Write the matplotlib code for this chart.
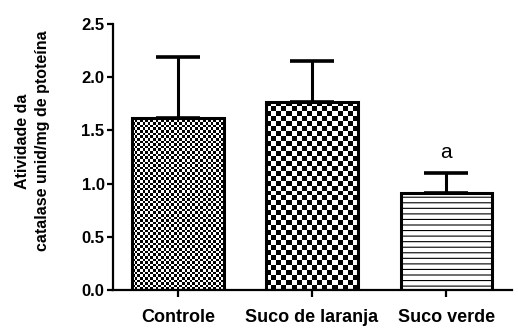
import matplotlib.pyplot as plt
import numpy as np

grupos = ['Controle', 'Suco de laranja', 'Suco verde']
medias = [1.62, 1.77, 0.91]
erros = [0.57, 0.38, 0.19]
letras = ['', '', 'a']
padroes = ['fino', 'grosso', 'listras']

plt.rcParams['font.family'] = ['Liberation Sans', 'DejaVu Sans']
plt.rcParams['hatch.linewidth'] = 0.8

fig = plt.figure(figsize=(5.18, 3.29), dpi=100)
ax = fig.add_axes([0.218, 0.1185, 0.770, 0.8085])

x = np.arange(len(grupos))
largura = 0.68
bars = ax.bar(x, medias, width=largura, color='none', edgecolor='black',
              linewidth=2.2, zorder=2)
ax.errorbar(x, medias, yerr=[np.zeros(len(x)), erros], fmt='none',
            ecolor='black', elinewidth=2.2, capsize=16, capthick=2.6, zorder=3)

ax.set_xlim(-0.485, 2.49)
ax.set_ylim(0, 2.5)

# checkerboard fills, cell size in pixels
celula = {'fino': 2.6, 'grosso': 5.0}
for b, p in zip(bars, padroes):
    if p == 'listras':
        b.set_hatch('---')
        continue
    x0, y0 = b.get_x(), 0
    x1, y1 = b.get_x() + b.get_width(), b.get_height()
    (px0, py0), (px1, py1) = ax.transData.transform([(x0, y0), (x1, y1)])
    nx = int(round((px1 - px0) / celula[p]))
    ny = int(round((py1 - py0) / celula[p]))
    tab = np.add.outer(np.arange(ny), np.arange(nx)) % 2
    im = ax.imshow(tab, cmap='gray', extent=(x0, x1, y0, y1), aspect='auto',
                   interpolation='nearest', zorder=1.5)
    im.set_clip_path(b)

ax.set_xlim(-0.485, 2.49)
ax.set_ylim(0, 2.5)

for xi, m, e, l in zip(x, medias, erros, letras):
    if l:
        ax.text(xi, m + e + 0.19, l, ha='center', va='center', fontsize=15)

ax.spines['top'].set_visible(False)
ax.spines['right'].set_visible(False)
ax.spines['left'].set_linewidth(1.6)
ax.spines['bottom'].set_linewidth(1.6)

ax.set_yticks([0, 0.5, 1.0, 1.5, 2.0, 2.5])
ax.set_yticklabels(['0.0', '0.5', '1.0', '1.5', '2.0', '2.5'])
ax.set_xticks(x)
ax.set_xticklabels(grupos)
ax.tick_params(axis='y', direction='out', length=4, width=1.6, labelsize=12, pad=2)
ax.tick_params(axis='x', direction='out', length=5, width=1.6, labelsize=13, pad=9)
for t in ax.get_xticklabels() + ax.get_yticklabels():
    t.set_fontweight('bold')

ax.set_ylabel('Atividade da\ncatalase unid/mg de ptoteína', fontsize=11.5,
              fontweight='bold', linespacing=1.45)
ax.yaxis.set_label_coords(-0.157, 0.56)

fig.savefig('out.png', dpi=100)
